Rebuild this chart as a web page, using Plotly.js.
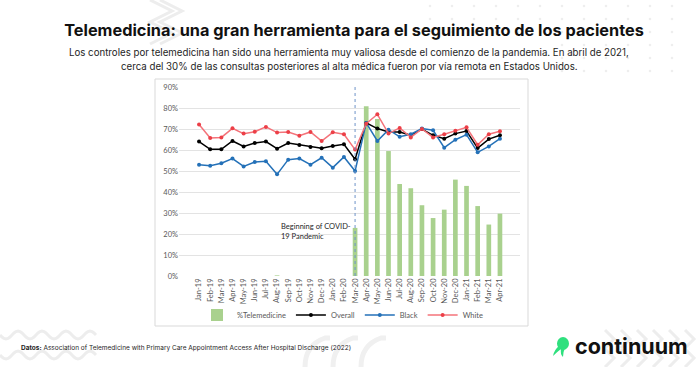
<!DOCTYPE html>
<html>
<head>
<meta charset="utf-8">
<script src="https://cdn.plot.ly/plotly-3.0.1.min.js"></script>
<style>html,body{margin:0;padding:0;background:#fff;}#chart{width:700px;height:367px;}</style>
</head>
<body>
<div id="chart"></div>
<script>
const months = ['Jan-19','Feb-19','Mar-19','Apr-19','May-19','Jun-19','Jul-19','Aug-19','Sep-19','Oct-19','Nov-19','Dec-19',
  'Jan-20','Feb-20','Mar-20','Apr-20','May-20','Jun-20','Jul-20','Aug-20','Sep-20','Oct-20','Nov-20','Dec-20',
  'Jan-21','Feb-21','Mar-21','Apr-21'];
const telemedicine = [0,0,0,0,0,0,0,0.3,0,0,0,0,0,0,22.9,80.8,74.8,59.5,43.8,41.8,33.7,27.6,31.6,45.9,42.9,33.3,24.5,29.7];
const overall = [64.0,60.3,60.3,64.3,61.7,63.3,64.0,60.6,63.3,62.4,61.4,60.8,61.9,62.7,55.6,72.9,70.2,68.6,68.6,67.0,70.0,67.0,65.4,67.8,69.0,60.9,65.2,67.0];
const black = [53.0,52.5,53.7,55.9,52.2,54.3,54.6,48.4,55.4,55.9,53.0,56.3,51.6,56.7,50.0,72.9,64.3,69.7,66.3,67.5,70.2,69.4,61.1,64.9,67.3,58.9,61.7,65.4];
const white = [72.1,65.7,66.0,70.3,67.8,68.7,71.0,68.3,68.6,66.8,68.6,64.3,68.4,67.5,60.2,72.5,77.0,67.8,70.5,66.0,70.0,66.0,67.5,69.2,70.8,62.5,67.5,68.9];
const seriesNames = ['%Telemedicine','Overall','Black','White'];
const pandemicStart = 'Mar-20';
const yTicks = [0,10,20,30,40,50,60,70,80,90];

const W = 700, H = 367;
const M = {l:179, r:180, t:87, b:91};
const PW = W - M.l - M.r, PH = H - M.t - M.b;
const px = x => (x - M.l) / PW;
const py = y => (H - M.b - y) / PH;
const pt = (x,y) => px(x).toFixed(4) + ',' + py(y).toFixed(4);

const chartFont = 'Lato, "Liberation Sans", sans-serif';
const pageFont = 'Inter, "Noto Sans", sans-serif';

const traces = [
  {type:'bar', name:seriesNames[0], x:months, y:telemedicine, marker:{color:'#a9d18e'}, width:0.42},
  {type:'scatter', mode:'lines+markers', name:seriesNames[1], x:months, y:overall,
   line:{color:'#000000', width:1.5}, marker:{color:'#000000', size:4}},
  {type:'scatter', mode:'lines+markers', name:seriesNames[2], x:months, y:black,
   line:{color:'#2471b8', width:1.5}, marker:{color:'#2471b8', size:4}},
  {type:'scatter', mode:'lines+markers', name:seriesNames[3], x:months, y:white,
   line:{color:'#f4737a', width:1.5}, marker:{color:'#ec3f47', size:4}}
];

const shapes = [];
const deco = '#ededed';
for (let k=0;k<2;k++){
  let d='M '+pt(150+k*10,0);
  for(let i=1;i<=4;i++){ d+=' L '+pt((i%2? 172:150)+k*10, i*11); }
  shapes.push({type:'path', xref:'paper', yref:'paper', path:d, line:{color:deco,width:3}, layer:'below'});
}
for (let r=0;r<6;r++){
  for (let c=0;c<12;c++){
    const cx = 430 + c*22, cy = 6 + r*13;
    if (cx < 560 && cy > 40) continue;
    shapes.push({type:'circle', xref:'paper', yref:'paper', x0:px(cx-1.3), x1:px(cx+1.3), y0:py(cy+1.3), y1:py(cy-1.3),
      fillcolor:'#eeeeee', line:{width:0}, layer:'below'});
  }
}
for (let k=0;k<2;k++){
  let d='';
  for (let i=0;i<=48;i++){
    const x=i*2, y=335+k*20+4*Math.sin(i*2/12*Math.PI);
    d += (i===0?'M ':' L ')+pt(x,y);
  }
  shapes.push({type:'path', xref:'paper', yref:'paper', path:d, line:{color:deco,width:3}, layer:'below'});
}
for (let k=0;k<3;k++){
  shapes.push({type:'path', xref:'paper', yref:'paper',
    path:'M '+pt(305+k*28,367)+' Q '+pt(305+k*28,345)+' '+pt(325+k*28,338)+' L '+pt(330+k*28,338),
    line:{color:'#f0f0f0',width:5}, layer:'below'});
}
for (let k=0;k<6;k++){
  for (let j=0;j<2;j++){
    const x0 = 605 + k*16, y0 = 330 + j*19;
    shapes.push({type:'path', xref:'paper', yref:'paper',
      path:'M '+pt(x0,y0)+' L '+pt(x0+9,y0+9)+' L '+pt(x0,y0+18),
      line:{color:deco,width:3}, layer:'below'});
  }
}
shapes.push({type:'rect', xref:'paper', yref:'paper', x0:px(155), x1:px(528), y0:py(326), y1:py(79),
  fillcolor:'#ffffff', line:{color:'#d9d9d9', width:1}, layer:'below'});
const pIdx = months.indexOf(pandemicStart);
shapes.push({type:'line', xref:'x', yref:'paper', x0:pIdx, x1:pIdx, y0:0, y1:1,
  line:{color:'#6f93c8', width:1, dash:'dot'}});
shapes.push({type:'circle', xref:'paper', yref:'paper', x0:px(557), x1:px(569), y0:py(350), y1:py(337),
  fillcolor:'#2fe07e', line:{width:0}});
shapes.push({type:'path', xref:'paper', yref:'paper',
  path:'M '+pt(559,346)+' Q '+pt(554,350)+' '+pt(553,356)+' Q '+pt(557,352)+' '+pt(561,349)+' Q '+pt(560,354)+' '+pt(563,357)+' Q '+pt(563,352)+' '+pt(565,348)+' Z',
  fillcolor:'#2fe07e', line:{width:0}});

const subFont = {family:pageFont, size:9.7, color:'#1e1e1e'};
const annotations = [
  {xref:'paper', yref:'paper', x:px(349), y:py(52), xanchor:'center', yanchor:'middle', showarrow:false,
   text:'Los controles por telemedicina han sido una herramienta muy valiosa desde el comienzo de la pandemia. En abril de 2021,',
   font:subFont},
  {xref:'paper', yref:'paper', x:px(349), y:py(66.5), xanchor:'center', yanchor:'middle', showarrow:false,
   text:'cerca del 30% de las consultas posteriores al alta médica fueron por vía remota en Estados Unidos.',
   font:subFont},
  {xref:'x', yref:'y', x:pIdx - 0.15, y:21.3, xanchor:'right', yanchor:'middle', showarrow:false,
   text:'Beginning of COVID-<br>19 Pandemic', align:'left', font:{family:chartFont, size:7.5, color:'#262626'}},
  {xref:'paper', yref:'paper', x:px(19), y:py(348), xanchor:'left', yanchor:'middle', showarrow:false,
   text:'<b>Datos:</b> Association of Telemedicine with Primary Care Appointment Access After Hospital Discharge (2022)',
   font:{family:pageFont, size:6.5, color:'#1e1e1e'}},
  {xref:'paper', yref:'paper', x:px(573), y:py(346), xanchor:'left', yanchor:'middle', showarrow:false,
   text:'<b>continuum</b>', font:{family:pageFont, size:21.5, color:'#111111'}}
];

const layout = {
  width:W, height:H, margin:M,
  paper_bgcolor:'#ffffff', plot_bgcolor:'rgba(0,0,0,0)',
  title:{text:'<b>Telemedicina: una gran herramienta para el seguimiento de los pacientes</b>',
    xref:'paper', x:px(354), xanchor:'center', yref:'container', y:1-30/H, yanchor:'middle',
    font:{family:pageFont, size:16.3, color:'#111111'}},
  showlegend:true,
  legend:{orientation:'h', x:px(343), xanchor:'center', y:py(315), yanchor:'middle',
    font:{family:chartFont, size:7.5, color:'#595959'}, itemwidth:30,
    bgcolor:'rgba(0,0,0,0)', traceorder:'normal'},
  bargap:0.58,
  xaxis:{type:'category', categoryarray:months, tickangle:-90, showgrid:false, showline:false, zeroline:false,
    ticks:'', tickfont:{family:chartFont, size:7.5, color:'#595959'}, automargin:false, fixedrange:true},
  yaxis:{range:[0,90], tickvals:yTicks, ticktext:yTicks.map(v=>v+'%'), showgrid:true, gridcolor:'#d9d9d9', gridwidth:0.75,
    zeroline:false, showline:false, ticks:'', tickfont:{family:chartFont, size:7.5, color:'#595959'}, automargin:false, fixedrange:true},
  shapes:shapes, annotations:annotations
};

Plotly.newPlot('chart', traces, layout, {displayModeBar:false, staticPlot:true});
</script>
</body>
</html>
